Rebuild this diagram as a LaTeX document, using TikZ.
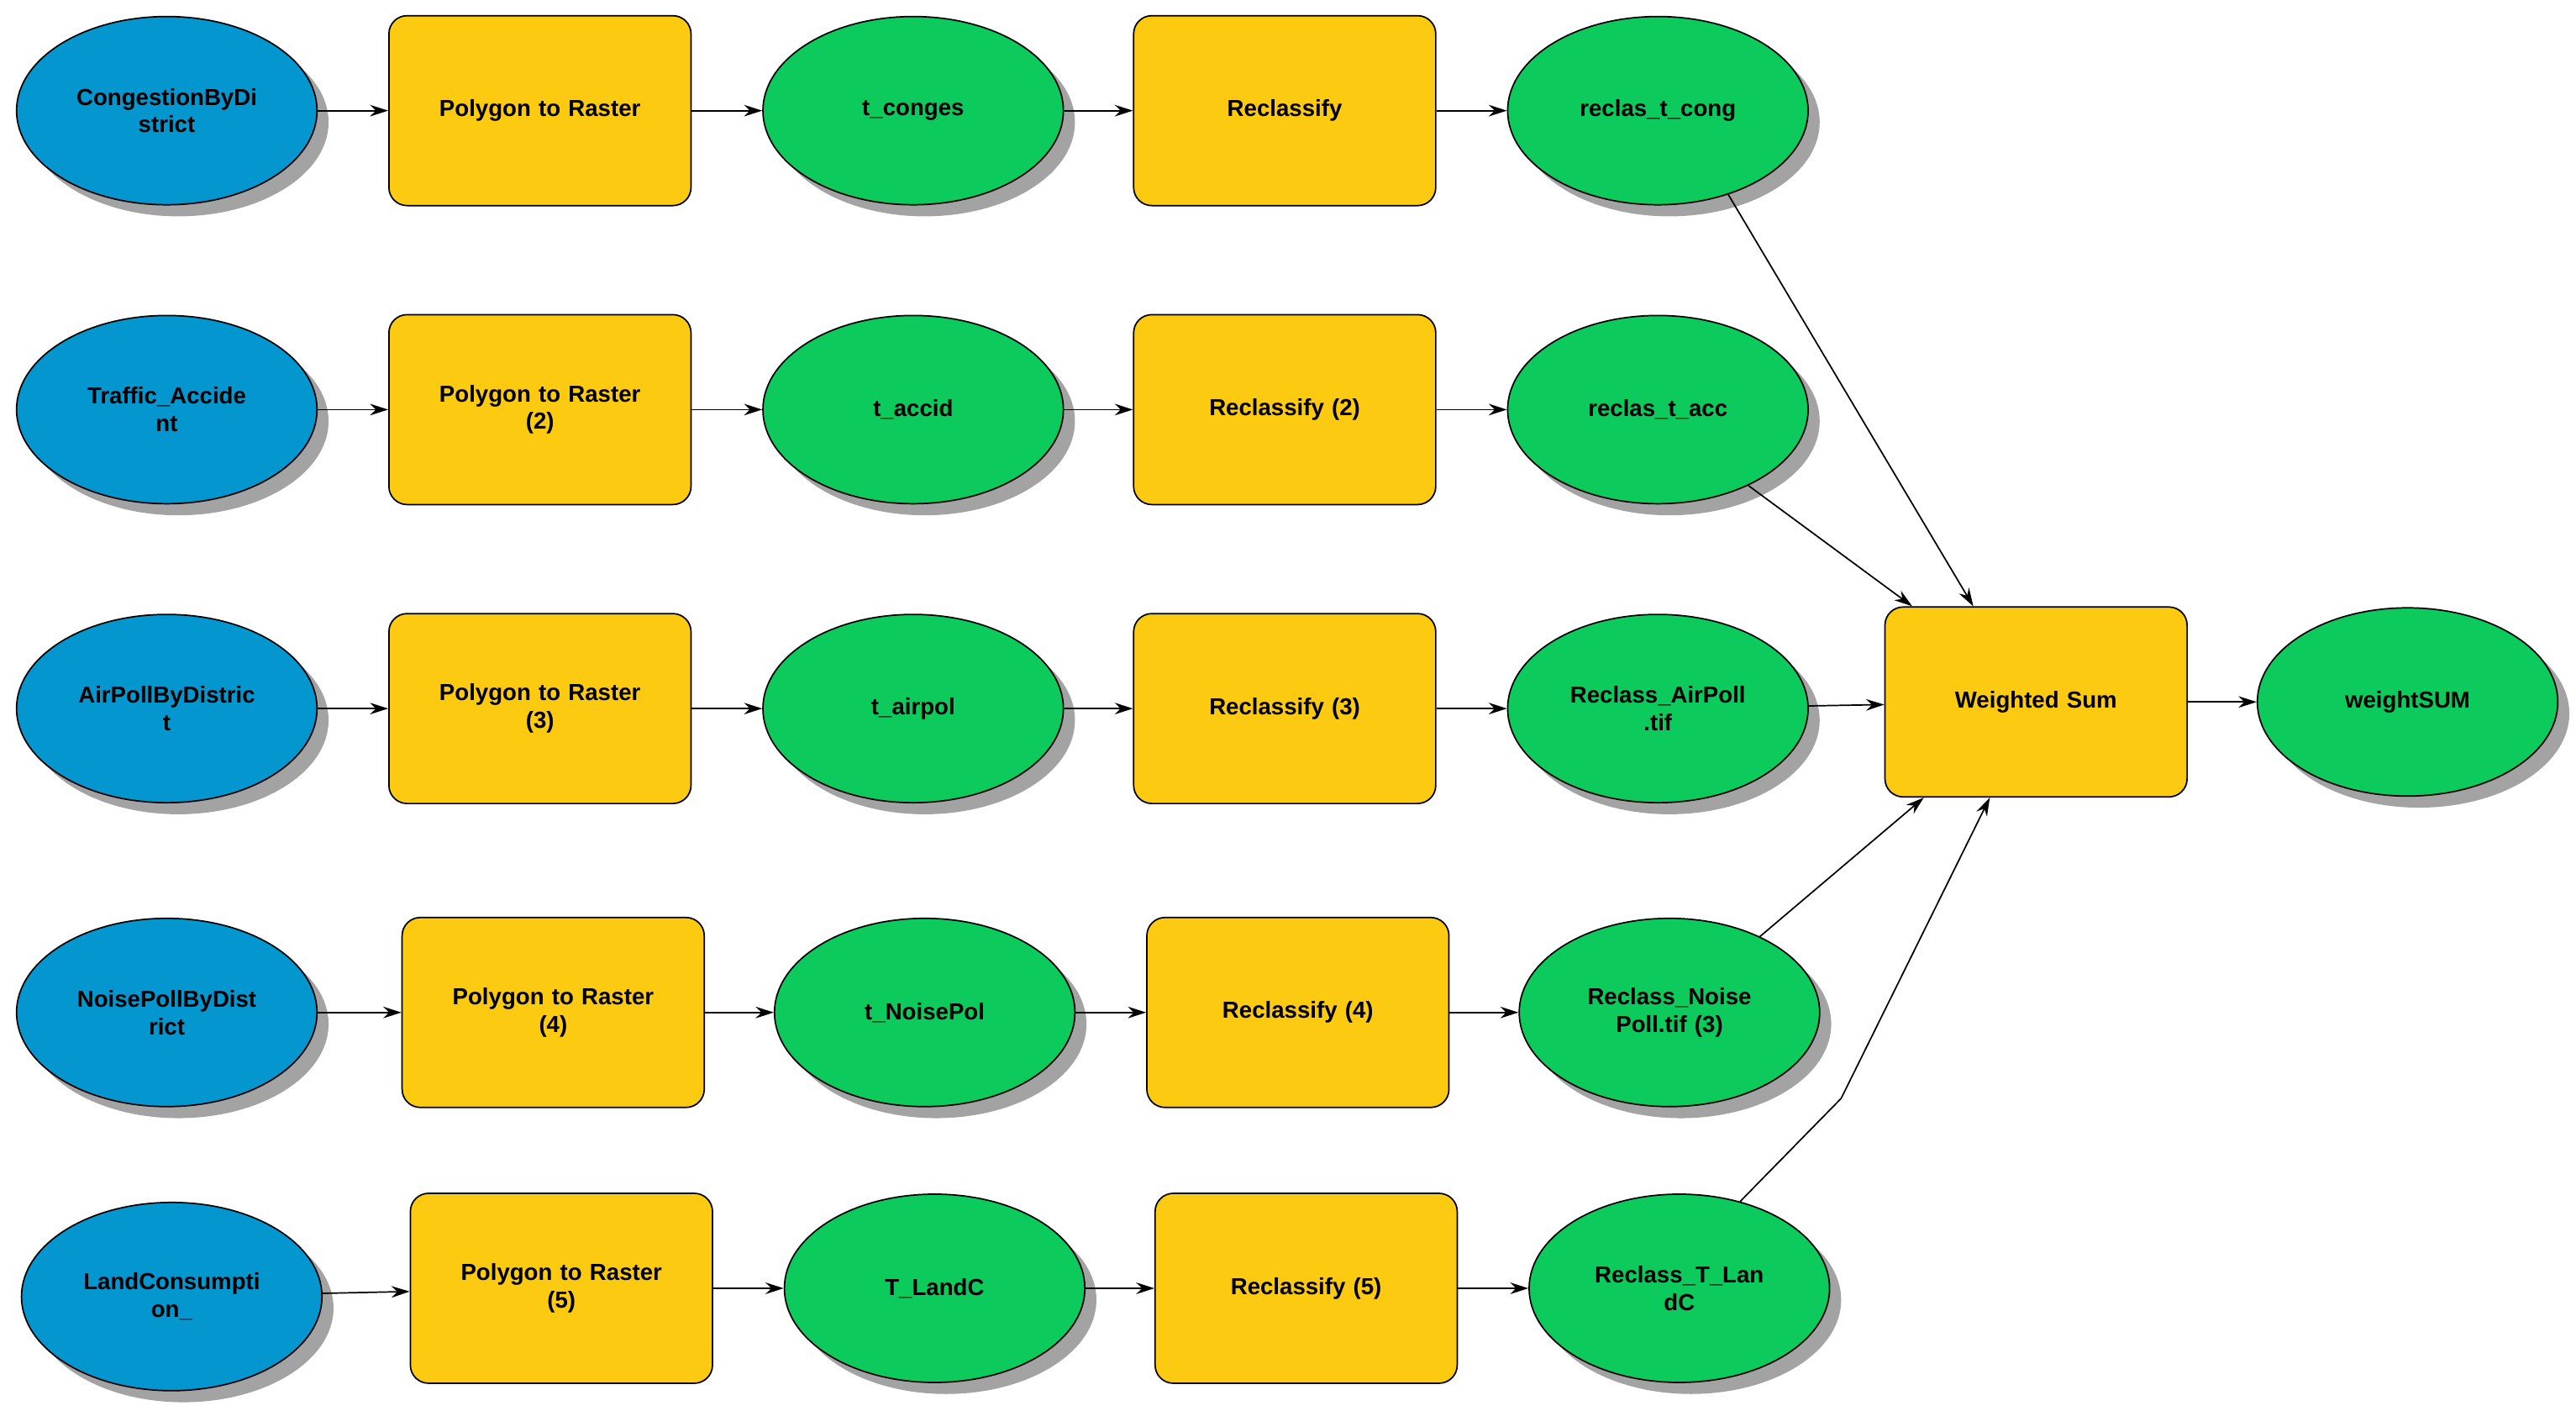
\documentclass[tikz,border=0pt]{standalone}
\usepackage{fontspec}
\setmainfont{Liberation Sans}
\usetikzlibrary{shapes.geometric,shadows,arrows.meta}
\definecolor{dataBlue}{HTML}{0497CF}
\definecolor{toolYellow}{HTML}{FCCB11}
\definecolor{outGreen}{HTML}{0CCB5C}
\begin{document}
\begin{tikzpicture}[x=0.02cm,y=-0.02cm,
    oval/.style={ellipse, draw=black, line width=0.5pt, minimum width=3.64cm, minimum height=2.28cm,
      inner sep=0pt, font=\fontsize{8}{9.5}\selectfont\bfseries, align=center, text width=2.3cm,
      drop shadow={shadow xshift=0.14cm, shadow yshift=-0.14cm, fill=black!45, opacity=0.8}},
    input/.style={oval, fill=dataBlue},
    output/.style={oval, fill=outGreen},
    tool/.style={rectangle, rounded corners=0.22cm, draw=black, line width=0.5pt, fill=toolYellow,
      minimum width=3.66cm, minimum height=2.3cm, font=\fontsize{8}{9.5}\selectfont\bfseries,
      align=center, text width=3.2cm},
    link/.style={-{Stealth[length=0.22cm,width=0.14cm]}, line width=0.5pt}
]
    \useasboundingbox (0,0) rectangle (1560,854);

    % Row 1
    \node[input] (in1) at (101,67) {CongestionByDi\\strict};
    \node[tool] (pr1) at (327,67) {Polygon to Raster};
    \node[output] (t1) at (553,67) {t\_conges};
    \node[tool] (rc1) at (778,67) {Reclassify};
    \node[output] (r1) at (1004,67) {reclas\_t\_cong};

    % Row 2
    \node[input] (in2) at (101,248) {Traffic\_Accide\\nt};
    \node[tool] (pr2) at (327,248) {Polygon to Raster\\(2)};
    \node[output] (t2) at (553,248) {t\_accid};
    \node[tool] (rc2) at (778,248) {Reclassify (2)};
    \node[output] (r2) at (1004,248) {reclas\_t\_acc};

    % Row 3
    \node[input] (in3) at (101,429) {AirPollByDistric\\t};
    \node[tool] (pr3) at (327,429) {Polygon to Raster\\(3)};
    \node[output] (t3) at (553,429) {t\_airpol};
    \node[tool] (rc3) at (778,429) {Reclassify (3)};
    \node[output] (r3) at (1004,429) {Reclass\_AirPoll\\.tif};

    % Row 4
    \node[input] (in4) at (101,613) {NoisePollByDist\\rict};
    \node[tool] (pr4) at (335,613) {Polygon to Raster\\(4)};
    \node[output] (t4) at (560,613) {t\_NoisePol};
    \node[tool] (rc4) at (786,613) {Reclassify (4)};
    \node[output] (r4) at (1011,613) {Reclass\_Noise\\Poll.tif (3)};

    % Row 5
    \node[input] (in5) at (104,785) {LandConsumpti\\on\_};
    \node[tool] (pr5) at (340,780) {Polygon to Raster\\(5)};
    \node[output] (t5) at (566,780) {T\_LandC};
    \node[tool] (rc5) at (791,780) {Reclassify (5)};
    \node[output] (r5) at (1017,780) {Reclass\_T\_Lan\\dC};

    % Sum
    \node[tool] (ws) at (1233,425) {Weighted Sum};
    \node[output] (out) at (1458,425) {weightSUM};

    \foreach \i in {1,...,5} {
        \draw[link] (in\i) -- (pr\i);
        \draw[link] (pr\i) -- (t\i);
        \draw[link] (t\i) -- (rc\i);
        \draw[link] (rc\i) -- (r\i);
    }
    \coordinate (bend) at (1115,665);
    \draw[link] (r1.-50) -- ([xshift=-0.76cm]ws.north);
    \draw[link] (r2.-40) -- ([xshift=-1.5cm]ws.north);
    \draw[link] (r3) -- (ws);
    \draw[link] (r4.40) -- ([xshift=-1.36cm]ws.south);
    \draw[link] (r5.55) -- (bend) -- ([xshift=-0.56cm]ws.south);
    \draw[link] (ws) -- (out);
\end{tikzpicture}
\end{document}
